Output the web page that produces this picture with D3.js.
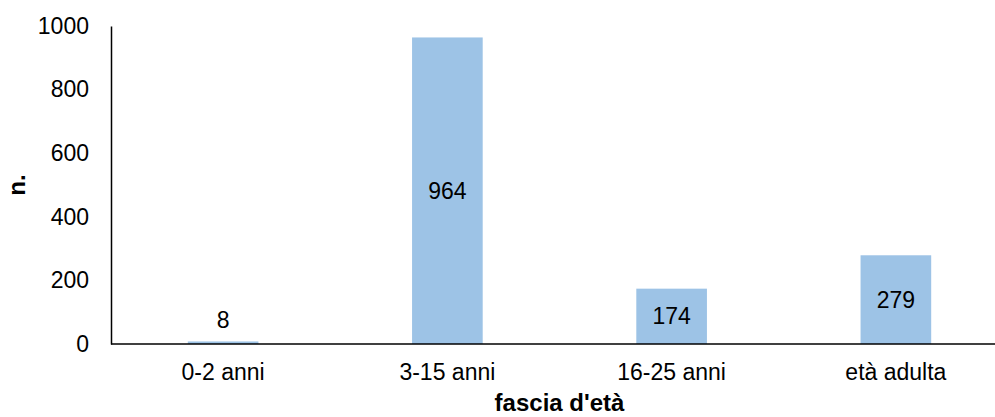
<!DOCTYPE html>
<html>
<head>
<meta charset="utf-8">
<script src="https://cdn.jsdelivr.net/npm/d3@7"></script>
<style>
  html, body { margin: 0; padding: 0; background: #fff; }
  svg { display: block; font-family: "Liberation Sans", Arial, sans-serif; }
</style>
</head>
<body>
<svg id="chart" width="995" height="417"></svg>
<script>
// Persone per fascia d'età
const categories = ["0-2 anni", "3-15 anni", "16-25 anni", "età adulta"];
const values = [8, 964, 174, 279];
const yTicks = [0, 200, 400, 600, 800, 1000];

const svg = d3.select("#chart");
const plot = { left: 111, right: 1008, top: 26, bottom: 344 };
const fontSize = 23;

const x = d3.scaleBand()
  .domain(categories)
  .range([plot.left, plot.right])
  .paddingInner(0.685)
  .paddingOuter(0.3425);

const y = d3.scaleLinear().domain([0, 1000]).range([plot.bottom, plot.top]);

// bars
svg.append("g").selectAll("rect")
  .data(categories)
  .join("rect")
  .attr("x", d => x(d))
  .attr("width", x.bandwidth())
  .attr("y", (d, i) => y(values[i]))
  .attr("height", (d, i) => y(0) - y(values[i]))
  .attr("fill", "#9DC3E6");

// value labels: centred inside the bar, above it when the bar is too short
svg.append("g").selectAll("text")
  .data(categories)
  .join("text")
  .attr("x", d => x(d) + x.bandwidth() / 2)
  .attr("y", (d, i) => {
    const h = y(0) - y(values[i]);
    return h < 30 ? y(values[i]) - 22 : (y(values[i]) + y(0)) / 2;
  })
  .attr("dy", "0.35em")
  .attr("text-anchor", "middle")
  .attr("font-size", fontSize)
  .attr("fill", "#000")
  .text((d, i) => values[i]);

// y axis
const yAxis = d3.axisLeft(y).tickValues(yTicks).tickFormat(d3.format("d"))
  .tickSize(0).tickPadding(22);
const gy = svg.append("g").attr("transform", `translate(${plot.left},0)`).call(yAxis);
gy.select(".domain").attr("stroke", "#000").attr("stroke-width", 1.5);
gy.selectAll("text").attr("font-size", fontSize).attr("fill", "#000")
  .attr("font-family", "Liberation Sans, Arial, sans-serif");

// x axis
const xAxis = d3.axisBottom(x).tickSize(0).tickPadding(20);
const gx = svg.append("g").attr("transform", `translate(0,${plot.bottom})`).call(xAxis);
gx.select(".domain").remove();
gx.append("line")
  .attr("x1", plot.left).attr("x2", 995)
  .attr("stroke", "#000").attr("stroke-width", 1.5);
gx.selectAll("text").attr("font-size", fontSize).attr("fill", "#000")
  .attr("font-family", "Liberation Sans, Arial, sans-serif");

// axis titles
svg.append("text")
  .attr("x", (plot.left + plot.right) / 2)
  .attr("y", 411)
  .attr("text-anchor", "middle")
  .attr("font-size", 24)
  .attr("font-weight", "bold")
  .text("fascia d'età");

svg.append("text")
  .attr("transform", `translate(25,${(plot.top + plot.bottom) / 2}) rotate(-90)`)
  .attr("text-anchor", "middle")
  .attr("font-size", 24)
  .attr("font-weight", "bold")
  .text("n.");
</script>
</body>
</html>
